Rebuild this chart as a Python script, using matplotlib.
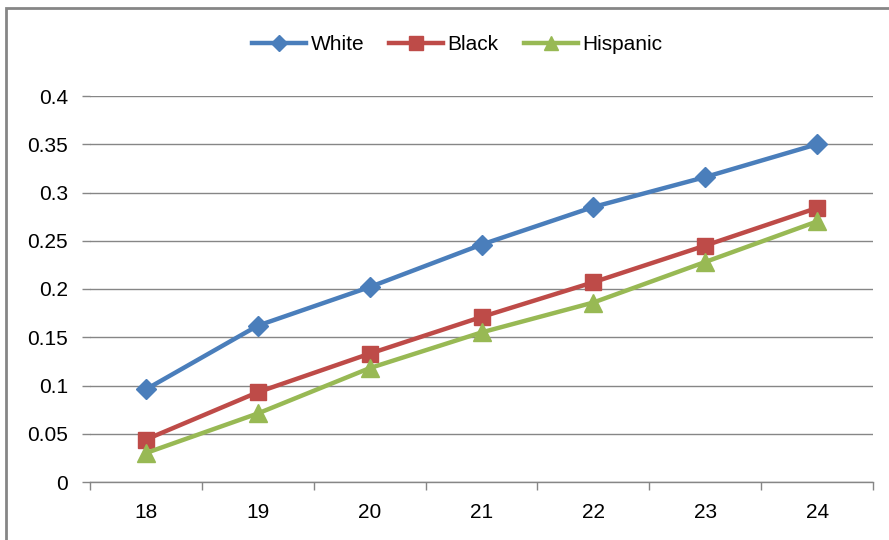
import matplotlib.pyplot as plt
from matplotlib.patches import Rectangle

ages = ["18", "19", "20", "21", "22", "23", "24"]
white = [0.096, 0.162, 0.202, 0.246, 0.285, 0.316, 0.350]
black = [0.044, 0.093, 0.133, 0.171, 0.207, 0.245, 0.284]
hispanic = [0.030, 0.071, 0.118, 0.155, 0.186, 0.228, 0.270]
yticks = [0, 0.05, 0.1, 0.15, 0.2, 0.25, 0.3, 0.35, 0.4]
ylabels = ["0", "0.05", "0.1", "0.15", "0.2", "0.25", "0.3", "0.35", "0.4"]

plt.rcParams['font.family'] = ['Liberation Sans', 'DejaVu Sans']

W, H = 889, 540
fig = plt.figure(figsize=(W / 100, H / 100), dpi=100)
ax = fig.add_axes([90 / W, (H - 482) / H, (873 - 90) / W, (482 - 96) / H])

# outer chart border
fig.patches.append(Rectangle((6 / W, -0.1), 1.0, (H - 8) / H + 0.1, transform=fig.transFigure,
                             fill=False, edgecolor='#868686', linewidth=2))

x = list(range(len(ages)))
ax.plot(x, white, color='#4A7EBB', lw=3.2, marker='D', ms=10, label='White', zorder=3)
ax.plot(x, black, color='#BE4B48', lw=3.2, marker='s', ms=12, label='Black', zorder=3)
ax.plot(x, hispanic, color='#98B954', lw=3.2, marker='^', ms=13, label='Hispanic', zorder=3)

ax.set_xlim(-0.5, len(ages) - 0.5)
ax.set_ylim(0, 0.4)
ax.set_yticks(yticks)
ax.set_yticklabels(ylabels)
ax.set_xticks(x)
ax.set_xticklabels(ages)
ax.set_xticks([i + 0.5 for i in range(len(ages) - 1)] + [-0.5, len(ages) - 0.5], minor=True)

ax.grid(axis='y', color='#868686', linewidth=1)
ax.set_axisbelow(True)
for side in ['left', 'top', 'right']:
    ax.spines[side].set_visible(False)
ax.spines['bottom'].set_color('#868686')
ax.spines['bottom'].set_linewidth(1)

ax.tick_params(axis='y', length=6, color='#868686', width=1, labelsize=15, pad=10)
ax.tick_params(axis='x', which='major', length=0, labelsize=15, pad=15)
ax.tick_params(axis='x', which='minor', length=6, color='#868686', width=1)

ax.legend(loc='center', bbox_to_anchor=(457 / W, (H - 45) / H), bbox_transform=fig.transFigure,
          ncol=3, frameon=False, fontsize=15, handlelength=2.6, columnspacing=1.2,
          handletextpad=0.2, markerscale=0.8)

fig.savefig('out.png', dpi=100)
